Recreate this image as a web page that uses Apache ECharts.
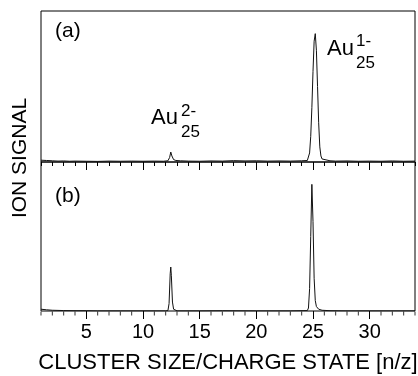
<!DOCTYPE html>
<html>
<head>
<meta charset="utf-8">
<script src="https://cdn.jsdelivr.net/npm/echarts@6/dist/echarts.min.js"></script>
<style>
  html, body { margin: 0; padding: 0; background: #fff; }
  #chart { width: 418px; height: 376px; }
</style>
</head>
<body>
<div id="chart"></div>
<script>
// spectra: [cluster size / charge state, relative signal]
const spectrumA = [
  [1, 0.012], [1.5, 0.010], [2, 0.008], [2.5, 0.006], [3, 0.007], [3.5, 0.005], [4, 0.006],
  [5, 0.005], [6, 0.004], [7, 0.006], [8, 0.005], [9, 0.006], [10, 0.005], [11, 0.006],
  [11.8, 0.005], [12.2, 0.008], [12.35, 0.03], [12.45, 0.066], [12.55, 0.04], [12.7, 0.016],
  [12.9, 0.010], [13.3, 0.008], [14, 0.006], [15, 0.005], [16, 0.007], [17, 0.006],
  [18, 0.009], [19, 0.007], [20, 0.008], [21, 0.006], [22, 0.007], [23, 0.006], [24, 0.008],
  [24.5, 0.010], [24.6, 0.02], [24.7, 0.06], [24.8, 0.17], [24.9, 0.36], [25.0, 0.60],
  [25.1, 0.80], [25.2, 0.85], [25.3, 0.74], [25.4, 0.50], [25.5, 0.26], [25.6, 0.10],
  [25.7, 0.04], [25.8, 0.02], [25.9, 0.012], [26.5, 0.008], [27, 0.006], [28, 0.007],
  [29, 0.005], [30, 0.006], [31, 0.005], [32, 0.007], [33, 0.005], [34, 0.006]
]
const spectrumB = [
  [1, 0.012], [1.5, 0.008], [2, 0.005], [3, 0.003], [4, 0.002], [5, 0.002], [6, 0.001],
  [8, 0.001], [10, 0.001], [12, 0.001], [12.2, 0.003], [12.3, 0.05], [12.4, 0.25],
  [12.45, 0.295], [12.5, 0.24], [12.6, 0.06], [12.7, 0.012], [12.8, 0.003], [13, 0.001],
  [15, 0.001], [17, 0.002], [20, 0.001], [23, 0.001], [24.5, 0.003], [24.6, 0.02],
  [24.7, 0.15], [24.8, 0.50], [24.9, 0.85], [25.0, 0.60], [25.1, 0.22], [25.2, 0.07],
  [25.3, 0.03], [25.5, 0.012], [25.8, 0.005], [26.5, 0.002], [28, 0.001], [30, 0.001], [34, 0.001]
]
const majorTicks = [5, 10, 15, 20, 25, 30]
const minorTicks = [1, 2, 3, 4, 6, 7, 8, 9, 11, 12, 13, 14, 16, 17, 18, 19, 21, 22, 23, 24,
  26, 27, 28, 29, 31, 32, 33, 34]

const FONT = 'Liberation Sans'
const chart = echarts.init(document.getElementById('chart'), null, { renderer: 'canvas' })

// one axis per grid side; ticks all point downwards like the original
const xAxisOf = (grid, pos, ticks, len, inside, labels) => ({
  type: 'value',
  gridIndex: grid,
  min: 1,
  max: 34,
  position: pos,
  splitLine: { show: false },
  axisLine: { show: false },
  axisTick: { show: true, inside, length: len, customValues: ticks, lineStyle: { color: '#000', width: 1 } },
  axisLabel: { show: labels, customValues: ticks, margin: 11, color: '#000', fontFamily: FONT, fontSize: 20 },
})
const yAxisOf = (grid) => ({
  type: 'value',
  gridIndex: grid,
  min: 0,
  max: 1,
  axisLine: { show: false },
  axisTick: { show: false },
  axisLabel: { show: false },
  splitLine: { show: false },
})
const txt = (x, y, s, size) => ({
  type: 'text',
  x, y,
  style: { text: s, fill: '#000', font: `${size}px "${FONT}"`, verticalAlign: 'middle' },
})

chart.setOption({
  animation: false,
  grid: [
    { left: 41, right: 3, top: 11, height: 151, show: true, borderColor: '#000', borderWidth: 1, backgroundColor: 'transparent' },
    { left: 41, right: 3, top: 162, height: 149, show: true, borderColor: '#000', borderWidth: 1, backgroundColor: 'transparent' },
  ],
  xAxis: [
    // middle line: majors from the upper panel, minors from the lower one
    xAxisOf(0, 'bottom', majorTicks, 8, false, false),
    xAxisOf(1, 'bottom', majorTicks, 8, false, true),
    xAxisOf(1, 'top', minorTicks, 4, true, false),
  ],
  yAxis: [yAxisOf(0), yAxisOf(1)],
  series: [
    {
      type: 'line', xAxisIndex: 0, yAxisIndex: 0, data: spectrumA, showSymbol: false,
      lineStyle: { color: '#111', width: 1 },
    },
    {
      type: 'line', xAxisIndex: 1, yAxisIndex: 1, data: spectrumB, showSymbol: false,
      lineStyle: { color: '#111', width: 1 },
    },
    {
      // minor ticks hanging under the lower panel
      type: 'scatter', xAxisIndex: 1, yAxisIndex: 1, silent: true, clip: false,
      data: minorTicks.map((v) => [v, 0]),
      symbol: 'rect', symbolSize: [1, 4], symbolOffset: [0, 2.5],
      itemStyle: { color: '#000' },
    },
  ],
  graphic: [
    txt(55, 31, '(a)', 21),
    txt(55, 196, '(b)', 21),
    txt(327, 49, 'Au', 22),
    txt(356, 41, '1-', 17),
    txt(356, 63.5, '25', 17),
    txt(151, 117.5, 'Au', 22),
    txt(181, 111.5, '2-', 17),
    txt(181, 132.5, '25', 17),
    {
      type: 'text',
      x: 228, y: 363,
      style: { text: 'CLUSTER SIZE/CHARGE STATE [n/z]', fill: '#000', font: `22px "${FONT}"`, align: 'center', verticalAlign: 'middle' },
    },
    {
      type: 'text',
      x: 20, y: 158,
      rotation: Math.PI / 2,
      style: { text: 'ION SIGNAL', fill: '#000', font: `21px "${FONT}"`, align: 'center', verticalAlign: 'middle' },
    },
  ],
})
</script>
</body>
</html>
